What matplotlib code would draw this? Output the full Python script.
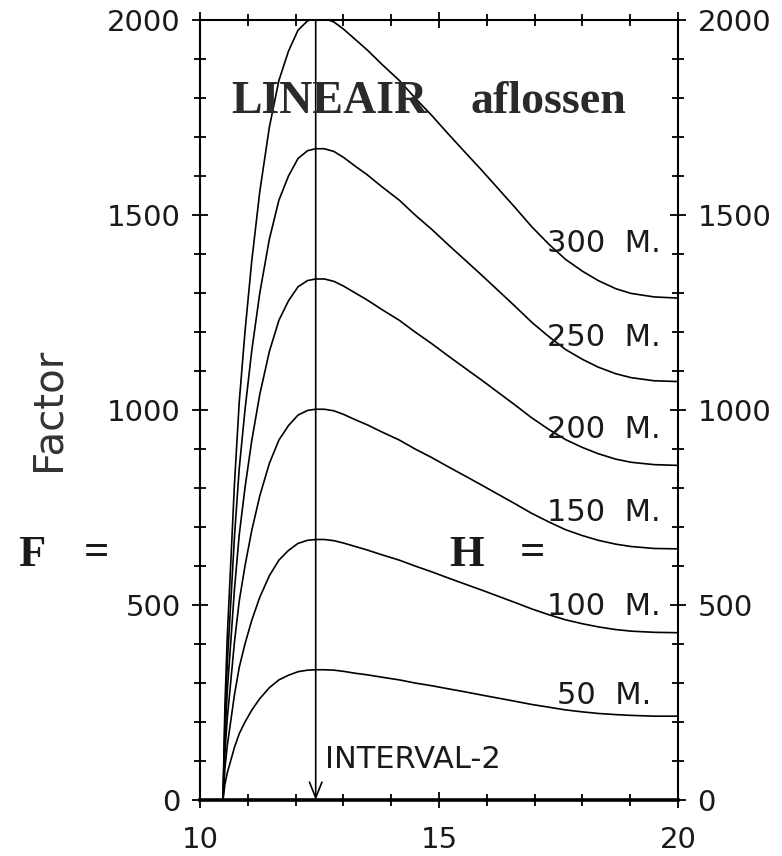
import matplotlib
matplotlib.use("Agg")
import matplotlib.pyplot as plt
from matplotlib.ticker import MultipleLocator

# interval points (x axis) shared by all curves
x_vals = [10.48, 10.52, 10.57, 10.64, 10.72, 10.82, 10.94, 11.08, 11.25, 11.45,
          11.65, 11.85, 12.05, 12.25, 12.42, 12.60, 12.80, 13.00, 13.25, 13.50,
          13.80, 14.17, 14.50, 14.85, 15.20, 15.56, 15.90, 16.25, 16.60, 16.94,
          17.30, 17.65, 18.00, 18.33, 18.70, 19.02, 19.50, 20.00]

# factor F for each height H
f_50 = [0, 40, 70, 100, 135, 170, 200, 230, 260, 288, 308, 320, 329, 333, 334,
        334, 333, 330, 325, 321, 315, 308, 300, 293, 285, 277, 269, 261, 253,
        245, 238, 231, 226, 222, 219, 217, 215, 215]
f_100 = [0, 80, 140, 200, 270, 340, 400, 460, 520, 575, 615, 640, 658, 666, 668,
         668, 665, 659, 650, 641, 629, 615, 600, 585, 569, 553, 538, 522, 506,
         490, 475, 462, 452, 444, 437, 433, 430, 429]
f_150 = [0, 120, 210, 300, 405, 510, 600, 690, 780, 863, 923, 960, 987, 999, 1002,
         1002, 998, 989, 975, 962, 944, 923, 900, 878, 854, 830, 807, 783, 759,
         735, 713, 693, 678, 666, 656, 650, 645, 644]
f_200 = [0, 160, 280, 400, 540, 680, 800, 920, 1040, 1150, 1230, 1280, 1316, 1332,
         1336, 1336, 1330, 1318, 1300, 1282, 1258, 1230, 1200, 1170, 1138, 1106,
         1076, 1044, 1012, 980, 950, 924, 904, 888, 874, 866, 860, 858]
f_250 = [0, 200, 350, 500, 675, 850, 1000, 1150, 1300, 1438, 1538, 1600, 1645, 1665,
         1670, 1670, 1663, 1648, 1625, 1603, 1573, 1538, 1500, 1463, 1423, 1383,
         1345, 1305, 1265, 1225, 1188, 1155, 1130, 1110, 1093, 1083, 1075, 1073]
f_300 = [0, 240, 420, 600, 810, 1020, 1200, 1380, 1560, 1725, 1845, 1920, 1974, 1998,
         2004, 2004, 1995, 1977, 1950, 1923, 1887, 1845, 1800, 1755, 1707, 1659,
         1614, 1566, 1518, 1470, 1425, 1386, 1356, 1332, 1311, 1299, 1290, 1287]

curves = [f_50, f_100, f_150, f_200, f_250, f_300]
labels = ["50  M.", "100  M.", "150  M.", "200  M.", "250  M.", "300  M."]
label_x = [19.44, 19.63, 19.63, 19.63, 19.63, 19.63]
label_y = [269, 495, 736, 949, 1187, 1426]

interval_x = 12.42

sans = ["DejaVu Sans"]
serif = ["Liberation Serif", "DejaVu Serif"]
ink = "#1a1a1a"

fig = plt.figure(figsize=(7.82, 8.56), dpi=100)
ax = fig.add_axes([0.2558, 0.0654, 0.6112, 0.9112])

for ys in curves:
    ax.plot(x_vals, ys, color="black", lw=1.2, solid_joinstyle="round")

ax.set_xlim(10, 20)
ax.set_ylim(0, 2000)

# arrow marking interval 2
ax.annotate("", xy=(interval_x, 0), xytext=(interval_x, 2000),
            arrowprops=dict(arrowstyle="->,head_length=0.75,head_width=0.3",
                            color="black", lw=1.2, mutation_scale=15,
                            shrinkA=0, shrinkB=0))
ax.text(interval_x + 0.2, 103, "INTERVAL-2", fontsize=22, family=sans,
        va="center", ha="left", color=ink)

for lab, lx, ly in zip(labels, label_x, label_y):
    ax.text(lx, ly, lab, fontsize=22, family=sans, color=ink,
            ha="right", va="center")

# ticks crossing the frame on all four sides
ax.xaxis.set_major_locator(MultipleLocator(5))
ax.xaxis.set_minor_locator(MultipleLocator(1))
ax.yaxis.set_major_locator(MultipleLocator(500))
ax.yaxis.set_minor_locator(MultipleLocator(100))
ax.tick_params(which="both", direction="inout", top=True, right=True,
               labelright=True, width=1.3, color="black", labelcolor=ink)
ax.tick_params(which="major", length=12)
ax.tick_params(which="minor", length=8)
ax.tick_params(axis="x", which="major", pad=13, labelsize=21)
ax.tick_params(axis="y", which="major", pad=8, labelsize=21)
for lab in ax.get_xticklabels() + ax.get_yticklabels():
    lab.set_family(sans)

for s in ["left", "right", "top"]:
    ax.spines[s].set_linewidth(1.5)
ax.spines["bottom"].set_linewidth(2.6)

# texts outside / over the plot
fig.text(48 / 782, 1 - 409 / 856, "Factor", rotation=90, fontsize=29,
         family=sans, color="#333333", ha="center", va="center")
fig.text(18 / 782, 1 - 555 / 856, "F", fontsize=32, family=serif,
         fontweight="bold", ha="left", va="center", color=ink)
fig.text(84 / 782, 1 - 553 / 856, "=", fontsize=32, family=serif,
         fontweight="bold", ha="left", va="center", color=ink)
fig.text(449 / 782, 1 - 555 / 856, "H", fontsize=32, family=serif,
         fontweight="bold", ha="left", va="center", color=ink)
fig.text(520 / 782, 1 - 553 / 856, "=", fontsize=32, family=serif,
         fontweight="bold", ha="left", va="center", color=ink)
fig.text(231 / 782, 1 - 102 / 856, "LINEAIR", fontsize=33, family=serif,
         fontweight="bold", ha="left", va="center", color="#2a2a2a")
fig.text(470 / 782, 1 - 102 / 856, "aflossen", fontsize=33, family=serif,
         fontweight="bold", ha="left", va="center", color="#2a2a2a")

fig.savefig("out.png", dpi=100)
